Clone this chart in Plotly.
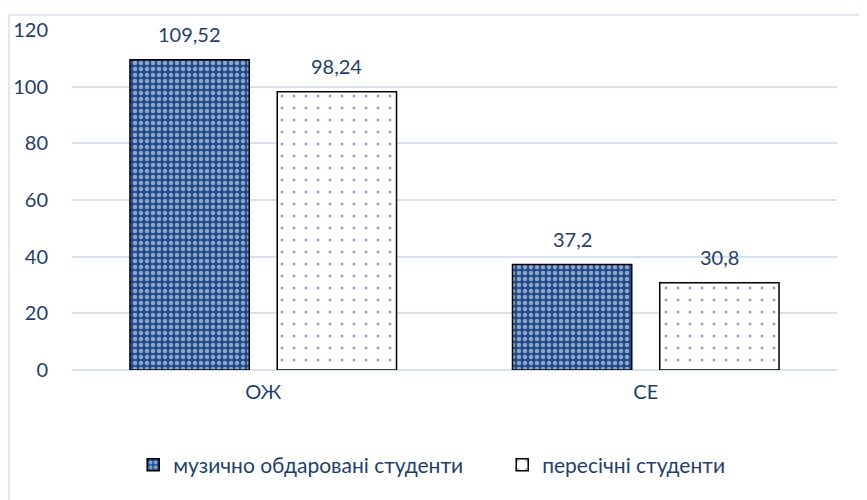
import plotly.graph_objects as go

categories = ["ОЖ", "СЕ"]
series_names = ["музично обдаровані студенти", "пересічні студенти"]
gifted = [109.52, 37.2]
ordinary = [98.24, 30.8]
gifted_labels = ["109,52", "37,2"]
ordinary_labels = ["98,24", "30,8"]
y_ticks = [0, 20, 40, 60, 80, 100, 120]

BLUE = "#1D4A8A"
TXT = "#1F3E6E"
GRID = "#D6E1F2"
FONT = "Lato, 'Open Sans', sans-serif"
FS = 20

fig = go.Figure()
fig.add_trace(go.Bar(
    name=series_names[0], x=categories, y=gifted,
    marker=dict(color=BLUE, line=dict(color="black", width=1.5),
                pattern=dict(shape=".", fgcolor="white", bgcolor=BLUE,
                             size=6, solidity=0.45, fillmode="overlay")),
))
fig.add_trace(go.Bar(
    name=series_names[1], x=categories, y=ordinary,
    marker=dict(color="white", line=dict(color="black", width=1.5),
                pattern=dict(shape=".", fgcolor=BLUE, bgcolor="white",
                             size=12, solidity=0.05, fillmode="overlay")),
))

annotations = []
for vals, labels, shift in ((gifted, gifted_labels, -73.5), (ordinary, ordinary_labels, 73.5)):
    for c, v, t in zip(categories, vals, labels):
        annotations.append(dict(x=c, y=v, xref="x", yref="y", text=t, showarrow=False,
                                xshift=shift, yshift=26, yanchor="middle",
                                font=dict(size=FS, color=TXT, family=FONT)))

fig.update_layout(
    width=859, height=492,
    margin=dict(l=64, r=30, t=22, b=130, autoexpand=False),
    paper_bgcolor="white", plot_bgcolor="white",
    font=dict(family=FONT, size=FS, color=TXT),
    barmode="group", bargap=0.23, bargroupgap=0.19,
    showlegend=True,
    legend=dict(orientation="h", x=0.08, xanchor="left", y=-0.28, yanchor="middle",
                font=dict(size=21, color=TXT, family=FONT),
                traceorder="normal", entrywidth=324),
    xaxis=dict(showgrid=False, showline=False, ticks="", tickfont=dict(size=FS, color=TXT),
               ticklabelstandoff=8),
    yaxis=dict(range=[0, 120], tickvals=y_ticks, showgrid=True, gridcolor=GRID, gridwidth=1.5,
               zeroline=True, zerolinecolor=GRID, zerolinewidth=1.5, showline=False,
               tickfont=dict(size=FS, color=TXT), ticklabelstandoff=23),
    annotations=annotations,
    shapes=[dict(type="rect", xref="paper", yref="paper",
                 x0=-0.0824, x1=1.05, y0=-0.45, y1=1.044,
                 line=dict(color=GRID, width=1.5), fillcolor="rgba(0,0,0,0)", layer="below")],
)

fig.write_html("out.html")
